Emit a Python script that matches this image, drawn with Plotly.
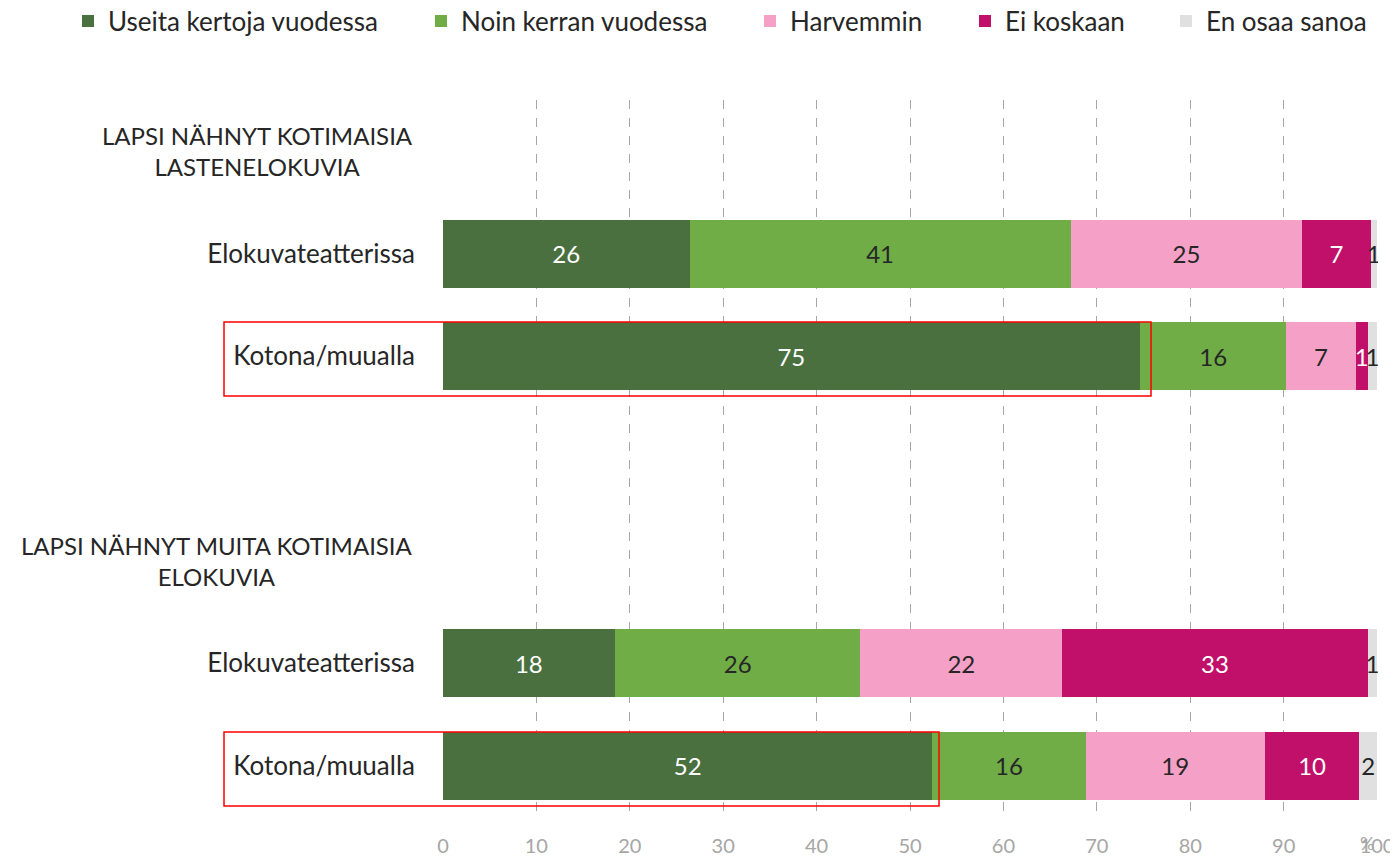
import plotly.graph_objects as go

# Categories (top to bottom)
cat_ids = ["otsikko1", "lapset_teatteri", "lapset_koti", "vali", "otsikko2", "muut_teatteri", "muut_koti"]
cat_labels = ["", "Elokuvateatterissa", "Kotona/muualla", "", "", "Elokuvateatterissa", "Kotona/muualla"]
header_labels = ["LAPSI NÄHNYT KOTIMAISIA<br>LASTENELOKUVIA", "LAPSI NÄHNYT MUITA KOTIMAISIA<br>ELOKUVIA"]
header_ids = ["otsikko1", "otsikko2"]

bar_ids = ["lapset_teatteri", "lapset_koti", "muut_teatteri", "muut_koti"]

series_names = ["Useita kertoja vuodessa", "Noin kerran vuodessa", "Harvemmin", "Ei koskaan", "En osaa sanoa"]
useita = [26.4, 74.6, 18.4, 52.4]
noin_kerran = [40.8, 15.7, 26.3, 16.4]
harvemmin = [24.8, 7.4, 21.6, 19.2]
ei_koskaan = [7.3, 1.3, 32.7, 10.1]
en_osaa = [0.7, 1.0, 1.0, 1.9]
series_values = [useita, noin_kerran, harvemmin, ei_koskaan, en_osaa]

colors = ["#4A7040", "#70AD47", "#F4A0C7", "#C0106A", "#E0E0E0"]
text_colors = ["#FFFFFF", "#262626", "#262626", "#FFFFFF", "#262626"]

x_ticks = list(range(0, 101, 10))

FONT = "Lato"
PLOT_W = 936.0
legend_x_px = [68, 421, 750, 965, 1166]   # left edge of each legend entry, page px

fig = go.Figure()
legend_keys = ["legend", "legend2", "legend3", "legend4", "legend5"]
for name, vals, col, tcol, lk in zip(series_names, series_values, colors, text_colors, legend_keys):
    fig.add_trace(go.Bar(
        y=bar_ids, x=vals, name=name, orientation="h", legend=lk,
        marker=dict(color=col, line=dict(width=0)),
        texttemplate="%{x:.0f}", textposition="inside", insidetextanchor="middle",
        constraintext="none",
        textfont=dict(color=tcol, size=24, family=FONT),
    ))

for hid, htxt in zip(header_ids, header_labels):
    fig.add_annotation(x=-0.029, xref="paper", xanchor="right", y=hid, yref="y",
                       text=htxt, showarrow=False, align="center",
                       font=dict(size=24, family=FONT, color="#262626"))

# % label at axis end
fig.add_annotation(x=98.9, xref="x", y=-0.0365, yref="paper", yanchor="middle",
                   text="%", showarrow=False,
                   font=dict(size=18, family=FONT, color="#A6A6A6"))

# red highlight boxes
for x1, y0, y1 in [(0.7575, 0.5872, 0.6904), (0.531, 0.0153, 0.1186)]:
    fig.add_shape(type="rect", xref="paper", yref="paper", x0=-0.2329, x1=x1, y0=y0, y1=y1,
                  line=dict(color="#FF0000", width=1.5), fillcolor="rgba(0,0,0,0)", layer="above")

layout_legends = {}
for lk, px in zip(legend_keys, legend_x_px):
    layout_legends[lk] = dict(orientation="h", x=(px - 442) / PLOT_W, xanchor="left",
                              y=1.110, yanchor="middle", bgcolor="rgba(0,0,0,0)",
                              font=dict(size=26, family=FONT, color="#262626"),
                              itemwidth=30)

fig.update_layout(
    barmode="stack", bargap=0.336,
    width=1390, height=850,
    margin=dict(l=434, r=20, t=92, b=41, autoexpand=False),
    plot_bgcolor="white", paper_bgcolor="white",
    font=dict(family=FONT, color="#262626"),
    showlegend=True,
    **layout_legends,
)
fig.update_xaxes(range=[-0.1, 100.1], tickvals=x_ticks, showgrid=True, gridcolor="#A6A6A6",
                 griddash="dash", gridwidth=1, zeroline=False, showline=False,
                 ticks="", ticklabelstandoff=15, automargin=False,
                 tickfont=dict(size=20, family=FONT, color="#A6A6A6"))
fig.update_yaxes(type="category", categoryorder="array", categoryarray=cat_ids,
                 range=[len(cat_ids) - 0.5, -0.5], autorange=False,
                 tickvals=cat_ids, ticktext=cat_labels,
                 showgrid=False, zeroline=False, showline=False, ticks="",
                 ticklabelstandoff=26, automargin=False,
                 tickfont=dict(size=26, family=FONT, color="#262626"))

fig.write_html("out.html")
